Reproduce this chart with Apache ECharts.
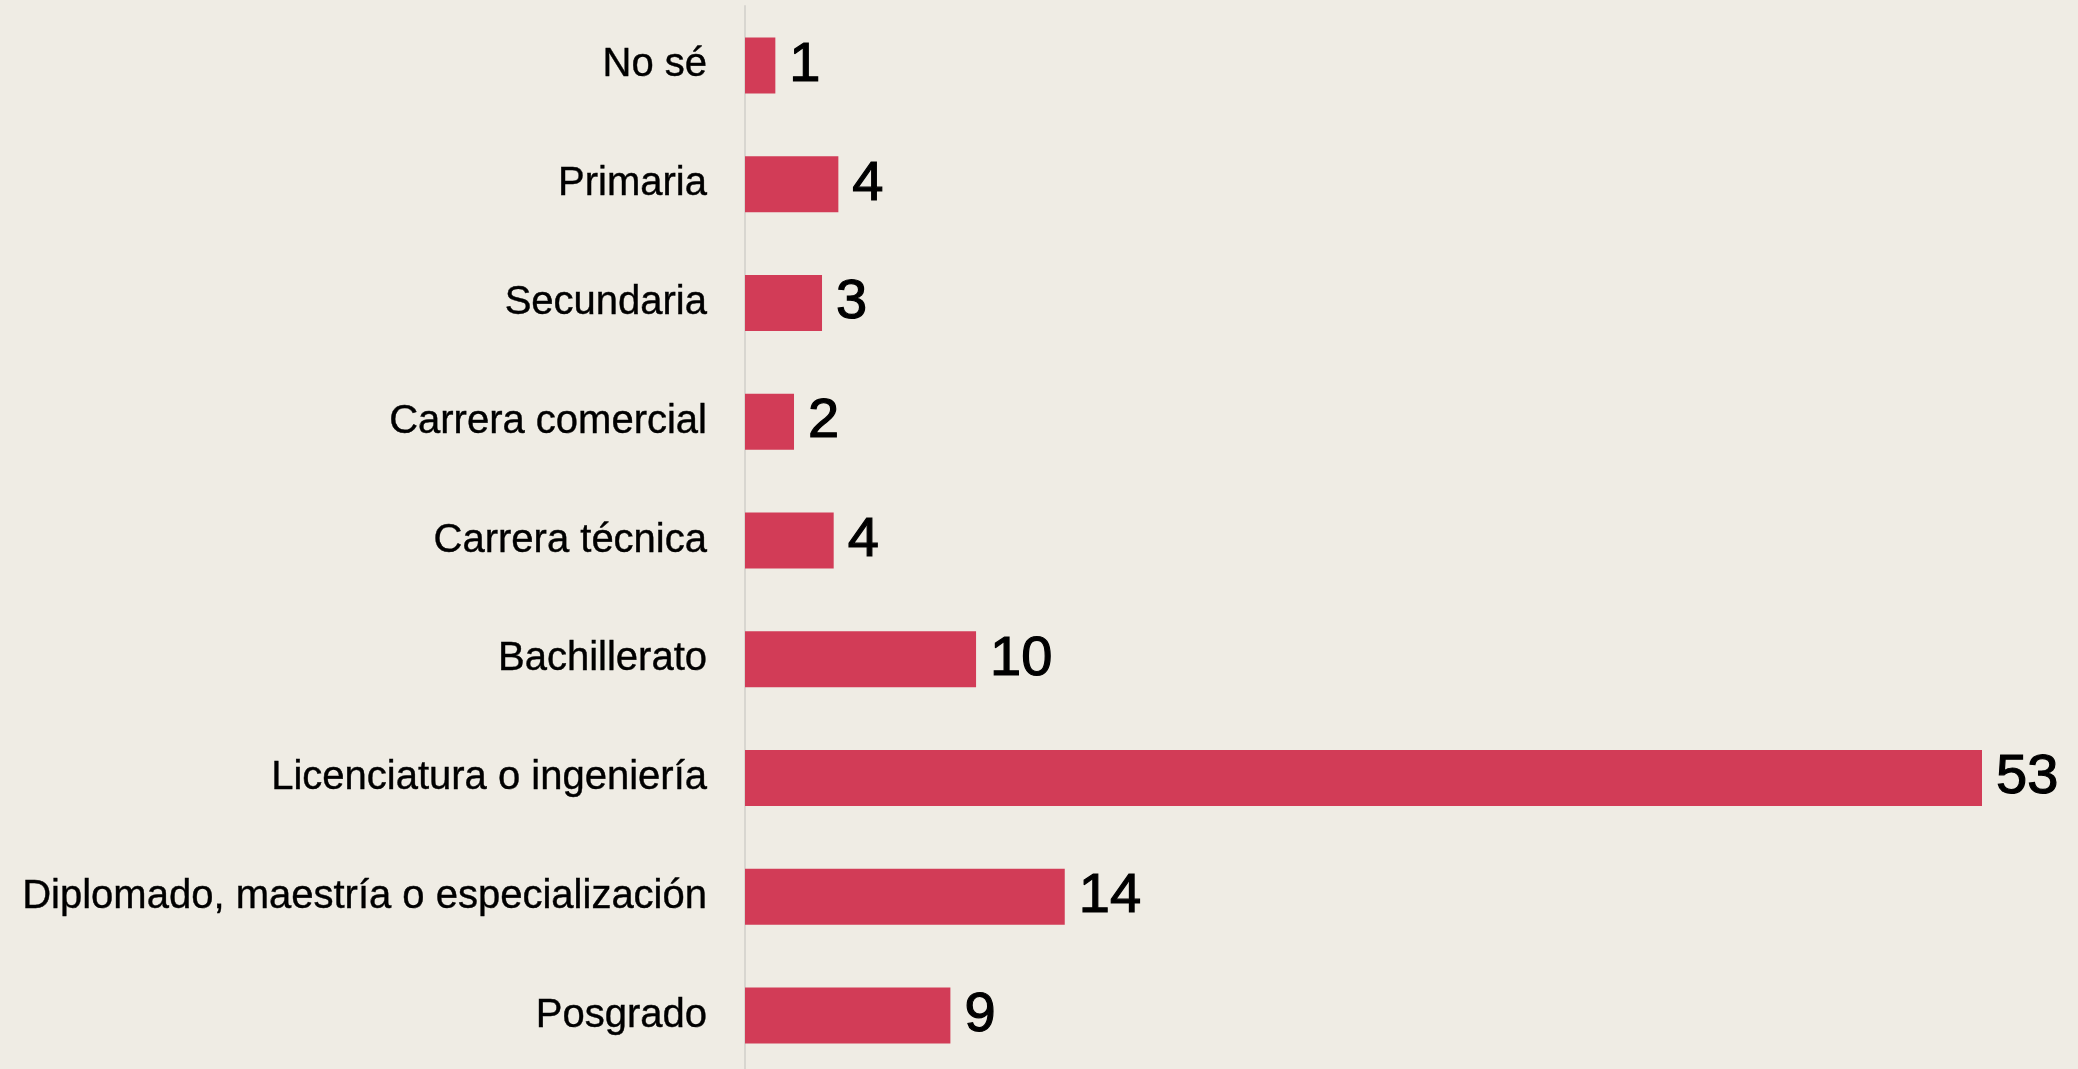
<!DOCTYPE html>
<html>
<head>
<meta charset="utf-8">
<script src="https://cdn.jsdelivr.net/npm/echarts@6/dist/echarts.min.js"></script>
<style>
  html, body { margin: 0; padding: 0; background: #efece4; }
  #main { width: 2078px; height: 1069px; }
</style>
</head>
<body>
<div id="main"></div>
<script>
// categories, top to bottom
var categories = [
  'No sé',
  'Primaria',
  'Secundaria',
  'Carrera comercial',
  'Carrera técnica',
  'Bachillerato',
  'Licenciatura o ingeniería',
  'Diplomado, maestría o especialización',
  'Posgrado'
];
// percent values (bar lengths), labels are rounded
var values = [1.3, 4.0, 3.3, 2.1, 3.8, 9.9, 53.0, 13.7, 8.8];

var myChart = echarts.init(document.getElementById('main'));
myChart.setOption({
  backgroundColor: '#efece4',
  animation: false,
  grid: { left: 745, right: 96, top: 6, height: 1069, outerBoundsMode: 'none', containLabel: false },
  xAxis: {
    type: 'value',
    min: 0,
    max: 53,
    show: false
  },
  yAxis: {
    type: 'category',
    data: categories,
    inverse: true,
    axisLine: { show: true, lineStyle: { color: '#d8d6d0', width: 2 } },
    axisTick: { show: false },
    axisLabel: {
      margin: 38,
      color: '#000',
      fontSize: 40,
      fontFamily: 'Liberation Sans',
      textBorderColor: '#000',
      textBorderWidth: 0.4
    }
  },
  series: [{
    type: 'bar',
    data: values,
    barWidth: 56,
    itemStyle: { color: '#d23c57' },
    label: {
      show: true,
      position: 'right',
      distance: 14,
      color: '#000',
      fontSize: 56,
      fontFamily: 'Liberation Sans',
      textBorderColor: '#000',
      textBorderWidth: 1.2,
      formatter: function (p) { return Math.round(p.value); }
    }
  }]
});
</script>
</body>
</html>
